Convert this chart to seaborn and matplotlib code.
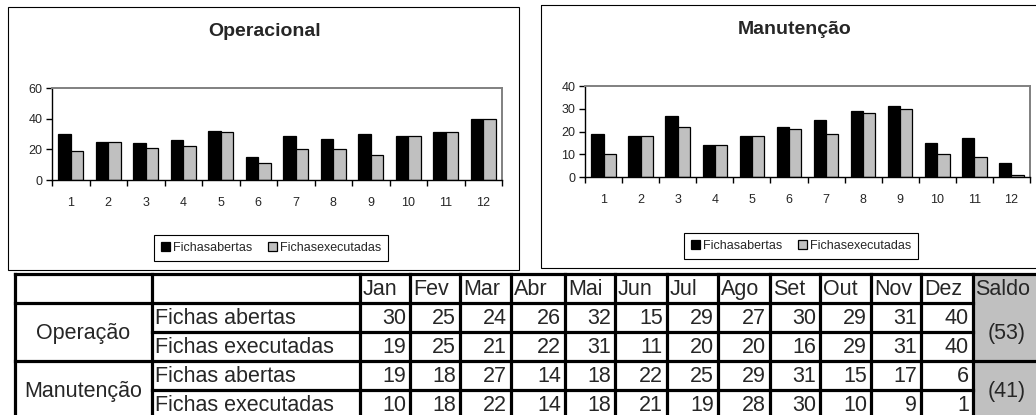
import numpy as np
import pandas as pd
import matplotlib
matplotlib.use("Agg")
import matplotlib.pyplot as plt
from matplotlib.patches import Rectangle
import seaborn as sns

# ---- data -------------------------------------------------------------
meses = ["Jan", "Fev", "Mar", "Abr", "Mai", "Jun", "Jul", "Ago", "Set", "Out", "Nov", "Dez"]
rotulos_x = [str(i) for i in range(1, 13)]

op_abertas = [30, 25, 24, 26, 32, 15, 29, 27, 30, 29, 31, 40]
op_executadas = [19, 25, 21, 22, 31, 11, 20, 20, 16, 29, 31, 40]
man_abertas = [19, 18, 27, 14, 18, 22, 25, 29, 31, 15, 17, 6]
man_executadas = [10, 18, 22, 14, 18, 21, 19, 28, 30, 10, 9, 1]

series_legenda = ["Fichasabertas", "Fichasexecutadas"]
linhas_tabela = ["Fichas abertas", "Fichas executadas"]
grupos = ["Operação", "Manutenção"]
titulos = ["Operacional", "Manutenção"]
cabecalho_saldo = "Saldo"

# ---- style ------------------------------------------------------------
sns.set_theme(style="white")
plt.rcParams["font.family"] = ["Liberation Sans", "DejaVu Sans"]

W, H = 1036, 415
fig = plt.figure(figsize=(W / 100, H / 100), dpi=100)
fig.patch.set_facecolor("white")

# background canvas in pixel units (y downwards) for frames and the table
bg = fig.add_axes([0, 0, 1, 1])
bg.set_xlim(0, W)
bg.set_ylim(H, 0)
bg.axis("off")


def px_axes(left, top, right, bottom):
    return fig.add_axes([left / W, 1 - bottom / H, (right - left) / W, (bottom - top) / H])


def grafico(ax, abertas, executadas, ymax, ystep, titulo, titulo_xy, legenda_xy):
    n = len(abertas)
    df = pd.DataFrame({
        "mes": rotulos_x * 2,
        "valor": list(abertas) + list(executadas),
        "serie": [series_legenda[0]] * n + [series_legenda[1]] * n,
    })
    sns.barplot(data=df, x="mes", y="valor", hue="serie", order=rotulos_x,
                hue_order=series_legenda, palette=["#000000", "#C0C0C0"],
                saturation=1, edgecolor="black", linewidth=0.9, width=0.66,
                ax=ax, legend=True)
    handles, labels = ax.get_legend_handles_labels()
    ax.get_legend().remove()

    ax.set_xlim(-0.5, n - 0.5)
    ax.set_ylim(0, ymax)
    ax.set_yticks(np.arange(0, ymax + 1, ystep))
    ax.set_xticks(np.arange(-0.5, n, 1), minor=True)
    ax.set_xlabel("")
    ax.set_ylabel("")
    ax.set_facecolor("white")
    for s in ("top", "right"):
        ax.spines[s].set_color("#808080")
        ax.spines[s].set_linewidth(1.4)
    for s in ("left", "bottom"):
        ax.spines[s].set_color("black")
        ax.spines[s].set_linewidth(1.0)
    ax.tick_params(axis="y", left=True, direction="out", length=4, width=1,
                   color="black", labelsize=9, pad=3)
    ax.tick_params(axis="x", which="major", bottom=False, length=0, labelsize=9, pad=12)
    ax.tick_params(axis="x", which="minor", bottom=True, direction="out", length=4,
                   width=1, color="black")

    fig.text(titulo_xy[0] / W, 1 - titulo_xy[1] / H, titulo, ha="center", va="center",
             fontsize=14, fontweight="bold")
    leg = fig.legend(handles, labels, loc="center",
                     bbox_to_anchor=(legenda_xy[0] / W, 1 - legenda_xy[1] / H),
                     ncol=2, frameon=True, fancybox=False, edgecolor="black",
                     framealpha=1, fontsize=9, handlelength=0.75, handleheight=0.75,
                     handletextpad=0.25, columnspacing=1.2, borderpad=0.55)
    leg.get_frame().set_linewidth(0.8)


# chart frames
bg.add_patch(Rectangle((8, 7), 511, 263, fill=False, ec="black", lw=0.8))
bg.add_patch(Rectangle((541, 5), 530, 263, fill=False, ec="black", lw=0.8))

ax1 = px_axes(52, 88, 502, 180)
grafico(ax1, op_abertas, op_executadas, 60, 20, titulos[0], (265, 31), (271, 248))
ax2 = px_axes(585, 86, 1030, 177)
grafico(ax2, man_abertas, man_executadas, 40, 10, titulos[1], (795, 30), (801, 246))

# ---- table ------------------------------------------------------------
col_x = [15, 152, 360, 410, 460, 511, 565, 615, 667, 718, 770, 820, 871, 921, 973, 1045]
row_y = [274, 303, 332, 361, 390, 419]
lw = 2.3
fs = 15.5
x_saldo = col_x[-2]

bg.add_patch(Rectangle((x_saldo, row_y[0]), col_x[-1] - x_saldo, row_y[-1] - row_y[0],
                       fc="#C0C0C0", ec="none"))


def hline(y, x0, x1):
    bg.plot([x0, x1], [y, y], color="black", lw=lw, solid_capstyle="projecting")


def vline(x, y0, y1):
    bg.plot([x, x], [y0, y1], color="black", lw=lw, solid_capstyle="projecting")


hline(row_y[0], col_x[0], W + 5)
hline(row_y[1], col_x[0], x_saldo)
hline(row_y[2], col_x[1], x_saldo)
hline(row_y[3], col_x[0], W + 5)
hline(row_y[4], col_x[1], x_saldo)
for x in col_x[:-1]:
    vline(x, row_y[0], row_y[-1])

ymid = lambda r: (row_y[r] + row_y[r + 1]) / 2 + 1

for i, m in enumerate(meses):
    bg.text(col_x[2 + i] + 3, ymid(0), m, ha="left", va="center", fontsize=fs)
bg.text(x_saldo + 2, ymid(0), cabecalho_saldo, ha="left", va="center", fontsize=fs)

valores = [(op_abertas, op_executadas), (man_abertas, man_executadas)]
for g, (abertas, executadas) in enumerate(valores):
    r0 = 1 + 2 * g
    bg.text((col_x[0] + col_x[1]) / 2, row_y[r0 + 1] + 1, grupos[g],
            ha="center", va="center", fontsize=fs)
    for k, serie in enumerate((abertas, executadas)):
        r = r0 + k
        bg.text(col_x[1] + 3, ymid(r), linhas_tabela[k], ha="left", va="center", fontsize=fs)
        for i, v in enumerate(serie):
            bg.text(col_x[3 + i] - 4, ymid(r), str(v), ha="right", va="center", fontsize=fs)
    saldo = sum(executadas) - sum(abertas)
    txt = f"({abs(saldo)})" if saldo < 0 else str(saldo)
    bg.text((x_saldo + W) / 2 + 2, row_y[r0 + 1] + 1, txt, ha="center", va="center",
            fontsize=fs)

fig.savefig("out.png", dpi=100, facecolor="white")
